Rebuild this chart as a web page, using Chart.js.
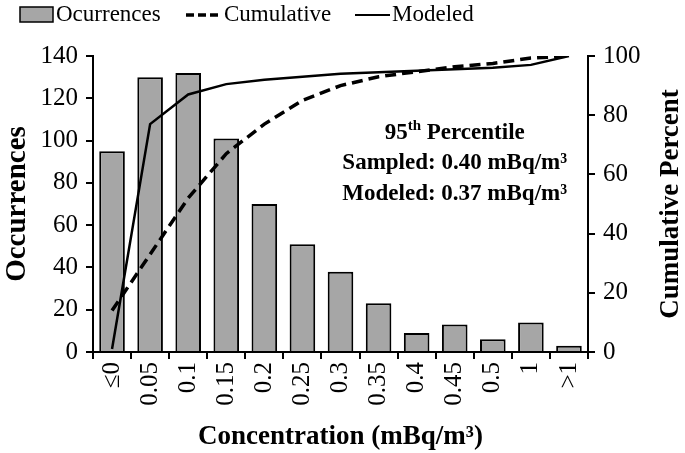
<!DOCTYPE html>
<html><head><meta charset="utf-8">
<script src="https://cdn.jsdelivr.net/npm/chart.js@4.4.1/dist/chart.umd.min.js"></script>
<style>html,body{margin:0;padding:0;background:#fff;}canvas{display:block;}</style>
</head><body>
<canvas id="c" width="685" height="453"></canvas>
<script>
const categories = ['≤0','0.05','0.1','0.15','0.2','0.25','0.3','0.35','0.4','0.45','0.5','1','>1'];
const occurrences = [95,130,132,101,70,51,38,23,9,13,6,14,3];
const cumulative = [14,33,52,67,77,85,90,93,94.7,96.4,97.5,99.3,100];
const modeled = [1,77,87,90.5,92,93,94,94.5,95,95.5,96,97,100];
const annotationLines = ['95th Percentile','Sampled: 0.40 mBq/m³','Modeled: 0.37 mBq/m³'];

const FONT = '"Liberation Serif", "Times New Roman", serif';
const BAR_FILL = '#a6a6a6';

const overlay = {
  id: 'overlay',
  afterDraw(chart) {
    const ctx = chart.ctx;
    const ca = chart.chartArea;
    ctx.save();
    ctx.fillStyle = '#000';
    ctx.strokeStyle = '#000';
    // legend
    const ly = 15;
    ctx.fillStyle = BAR_FILL;
    ctx.fillRect(20, 7, 33, 15);
    ctx.lineWidth = 1.5;
    ctx.strokeRect(20, 7, 33, 15);
    ctx.fillStyle = '#000';
    ctx.font = '23px ' + FONT;
    ctx.textBaseline = 'middle';
    ctx.textAlign = 'left';
    ctx.fillText('Ocurrences', 56, ly);
    ctx.beginPath();
    ctx.setLineDash([8, 4]);
    ctx.lineWidth = 3.5;
    ctx.moveTo(186, ly); ctx.lineTo(222, ly); ctx.stroke();
    ctx.setLineDash([]);
    ctx.fillText('Cumulative', 224, ly);
    ctx.beginPath();
    ctx.lineWidth = 2;
    ctx.moveTo(355, ly); ctx.lineTo(390, ly); ctx.stroke();
    ctx.fillText('Modeled', 392, ly);

    // right axis title (reads bottom to top)
    ctx.save();
    ctx.font = 'bold 27px ' + FONT;
    ctx.textAlign = 'center';
    ctx.translate(671, (ca.top + ca.bottom) / 2);
    ctx.rotate(-Math.PI / 2);
    ctx.fillText('Cumulative Percent', 0, 0);
    ctx.restore();

    // annotation
    const xs = chart.scales.x, yr = chart.scales.y1;
    const cx = xs.getPixelForValue(9);
    const bold = 'bold 23px ' + FONT;
    const small = 'bold 15px ' + FONT;
    let y = yr.getPixelForValue(74);
    ctx.font = bold;
    const w95 = ctx.measureText('95').width;
    const wRest = ctx.measureText(' Percentile').width;
    ctx.font = small;
    const wTh = ctx.measureText('th').width;
    let x0 = cx - (w95 + wTh + wRest) / 2;
    ctx.textAlign = 'left';
    ctx.font = bold; ctx.fillText('95', x0, y);
    ctx.font = small; ctx.fillText('th', x0 + w95, y - 7);
    ctx.font = bold; ctx.fillText(' Percentile', x0 + w95 + wTh, y);
    ctx.textAlign = 'center';
    ctx.fillText(annotationLines[1], cx, yr.getPixelForValue(63.7));
    ctx.fillText(annotationLines[2], cx, yr.getPixelForValue(53.4));
    ctx.restore();
  }
};

const tickFont = { family: FONT, size: 25 };
const titleFont = { family: FONT, size: 27, weight: 'bold' };

new Chart(document.getElementById('c'), {
  data: {
    labels: categories,
    datasets: [
      { type: 'line', label: 'Cumulative', data: cumulative, yAxisID: 'y1', borderColor: '#000', borderWidth: 3.5, borderDash: [11, 6], pointRadius: 0, tension: 0, fill: false, order: 1 },
      { type: 'line', label: 'Modeled', data: modeled, yAxisID: 'y1', borderColor: '#000', borderWidth: 2.5, pointRadius: 0, tension: 0, fill: false, order: 2 },
      { type: 'bar', label: 'Ocurrences', data: occurrences, yAxisID: 'y', backgroundColor: BAR_FILL, borderColor: '#000', borderWidth: 2, borderSkipped: 'start', barPercentage: 0.82, categoryPercentage: 0.82, order: 3 }
    ]
  },
  options: {
    responsive: false,
    animation: false,
    devicePixelRatio: 1,
    layout: { padding: { top: 56, left: 0, right: 0, bottom: 0 } },
    plugins: { legend: { display: false }, tooltip: { enabled: false } },
    scales: {
      x: {
        offset: true,
        grid: { offset: true, drawOnChartArea: false, drawTicks: true, tickLength: 7, color: '#000', lineWidth: 2 },
        border: { color: '#000', width: 2 },
        ticks: { color: '#000', font: tickFont, maxRotation: 90, minRotation: 90, autoSkip: false, padding: 3 },
        title: { display: true, text: 'Concentration (mBq/m³)', color: '#000', font: titleFont, padding: { top: 0, bottom: 0 } },
        afterFit(s) { s.height = 101; }
      },
      y: {
        position: 'left', min: 0, max: 140,
        grid: { drawOnChartArea: false, drawTicks: true, tickLength: 7, color: '#000', lineWidth: 2 },
        border: { color: '#000', width: 2 },
        ticks: { color: '#000', font: tickFont, stepSize: 20, padding: 8 },
        title: { display: true, text: 'Occurrences', color: '#000', font: { family: FONT, size: 29, weight: 'bold' }, padding: { top: 0, bottom: 0 } },
        afterFit(s) { s.width = 93; }
      },
      y1: {
        position: 'right', min: 0, max: 100,
        grid: { drawOnChartArea: false, drawTicks: true, tickLength: 7, color: '#000', lineWidth: 2 },
        border: { color: '#000', width: 2 },
        ticks: { color: '#000', font: tickFont, stepSize: 20, padding: 8 },
        afterFit(s) { s.width = 97; }
      }
    }
  },
  plugins: [overlay]
});
</script>
</body></html>
